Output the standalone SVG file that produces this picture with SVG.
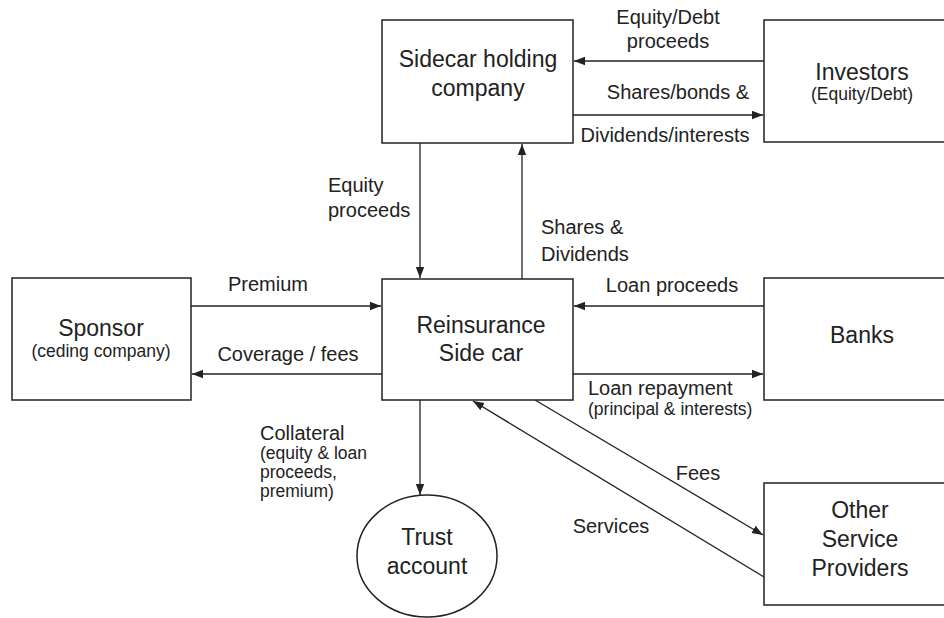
<svg xmlns="http://www.w3.org/2000/svg" width="944" height="618" viewBox="0 0 944 618">
  <style>
    .box { fill: #fff; stroke: #222; stroke-width: 1.5; }
    .edge { fill: none; stroke: #222; stroke-width: 1.3; }
    text { font-family: "Liberation Sans", Arial, sans-serif; fill: #222; }
    .node { font-size: 23px; text-anchor: middle; }
    .sub { font-size: 17.5px; text-anchor: middle; }
    .lbl { font-size: 20px; }
    .lbls { font-size: 17.5px; }
    .mid { text-anchor: middle; }
  </style>
  <defs>
    <marker id="arrow" markerUnits="userSpaceOnUse" markerWidth="12" markerHeight="10" refX="11" refY="5" orient="auto">
      <path d="M0,0.8 L11,5 L0,9.2 Z" fill="#222"/>
    </marker>
  </defs>
  <rect width="944" height="618" fill="#fff"/>

  <g id="connectors">
    <line class="edge" x1="764" y1="61" x2="574" y2="61" marker-end="url(#arrow)"/>
    <line class="edge" x1="573" y1="115" x2="763" y2="115" marker-end="url(#arrow)"/>
    <line class="edge" x1="420" y1="143" x2="420" y2="278" marker-end="url(#arrow)"/>
    <line class="edge" x1="522" y1="279" x2="522" y2="144" marker-end="url(#arrow)"/>
    <line class="edge" x1="191" y1="306" x2="381" y2="306" marker-end="url(#arrow)"/>
    <line class="edge" x1="382" y1="374" x2="192" y2="374" marker-end="url(#arrow)"/>
    <line class="edge" x1="764" y1="306" x2="574" y2="306" marker-end="url(#arrow)"/>
    <line class="edge" x1="573" y1="374" x2="763" y2="374" marker-end="url(#arrow)"/>
    <line class="edge" x1="420" y1="400" x2="420" y2="495" marker-end="url(#arrow)"/>
    <line class="edge" x1="535" y1="400" x2="763" y2="535" marker-end="url(#arrow)"/>
    <line class="edge" x1="764" y1="577" x2="473" y2="401" marker-end="url(#arrow)"/>

    <text class="lbl mid" x="668" y="24">Equity/Debt</text>
    <text class="lbl mid" x="668" y="48">proceeds</text>
    <text class="lbl mid" x="678" y="99">Shares/bonds &amp;</text>
    <text class="lbl mid" x="665" y="142">Dividends/interests</text>
    <text class="lbl" x="328" y="192">Equity</text>
    <text class="lbl" x="328" y="217">proceeds</text>
    <text class="lbl" x="541" y="234">Shares &amp;</text>
    <text class="lbl" x="541" y="261">Dividends</text>
    <text class="lbl mid" x="268" y="291">Premium</text>
    <text class="lbl mid" x="288" y="361">Coverage / fees</text>
    <text class="lbl mid" x="672" y="292">Loan proceeds</text>
    <text class="lbl" x="588" y="395">Loan repayment</text>
    <text class="lbls" x="588" y="415">(principal &amp; interests)</text>
    <text class="lbl" x="260" y="440">Collateral</text>
    <text class="lbls" x="260" y="459">(equity &amp; loan</text>
    <text class="lbls" x="260" y="478">proceeds,</text>
    <text class="lbls" x="260" y="497">premium)</text>
    <text class="lbl mid" x="698" y="480">Fees</text>
    <text class="lbl mid" x="611" y="533">Services</text>
  </g>

  <g id="sidecar-holding">
    <rect class="box" x="382" y="20" width="191" height="123"/>
    <text class="node" x="478" y="67">Sidecar holding</text>
    <text class="node" x="478" y="96">company</text>
  </g>

  <g id="investors">
    <rect class="box" x="764" y="20" width="200" height="122"/>
    <text class="node" x="862" y="80">Investors</text>
    <text class="sub" x="862" y="100">(Equity/Debt)</text>
  </g>

  <g id="sponsor">
    <rect class="box" x="12" y="278" width="179" height="122"/>
    <text class="node" x="101" y="336">Sponsor</text>
    <text class="sub" x="101" y="357">(ceding company)</text>
  </g>

  <g id="reinsurance-sidecar">
    <rect class="box" x="382" y="279" width="191" height="121"/>
    <text class="node" x="481" y="333">Reinsurance</text>
    <text class="node" x="481" y="361">Side car</text>
  </g>

  <g id="banks">
    <rect class="box" x="764" y="278" width="200" height="122"/>
    <text class="node" x="862" y="343">Banks</text>
  </g>

  <g id="trust-account">
    <ellipse class="box" cx="427" cy="556" rx="70" ry="61"/>
    <text class="node" x="427" y="545">Trust</text>
    <text class="node" x="427" y="574">account</text>
  </g>

  <g id="service-providers">
    <rect class="box" x="764" y="483" width="200" height="122"/>
    <text class="node" x="860" y="518">Other</text>
    <text class="node" x="860" y="547">Service</text>
    <text class="node" x="860" y="576">Providers</text>
  </g>
</svg>
